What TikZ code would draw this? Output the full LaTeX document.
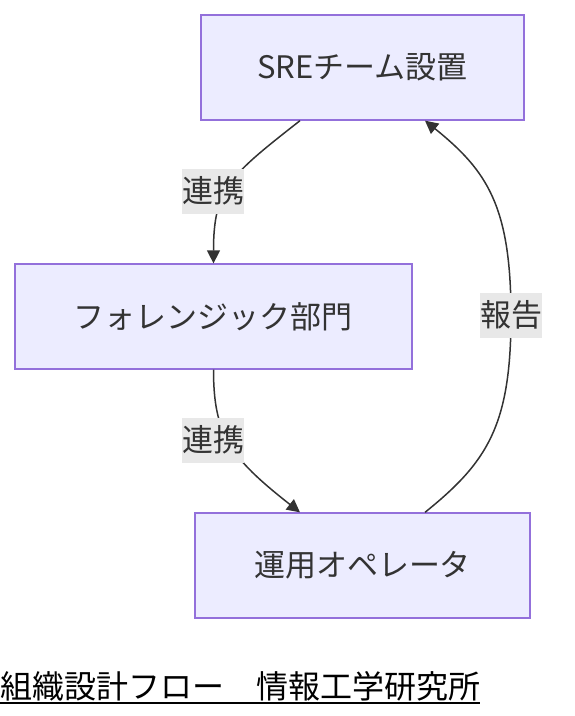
\documentclass[tikz,border=0pt]{standalone}
\usepackage{fontspec}
\newfontfamily\jp{Noto Sans CJK JP}
\usetikzlibrary{arrows.meta}
\definecolor{boxfill}{HTML}{ECECFF}
\definecolor{boxline}{HTML}{9370DB}
\definecolor{ink}{HTML}{333333}
\definecolor{edgebg}{HTML}{E8E8E8}
\tikzset{
  flowbox/.style={draw=boxline, line width=1.3pt, fill=boxfill, inner sep=0pt, text=ink,
    font=\jp\fontsize{31}{36}\selectfont},
  edgelabel/.style={fill=edgebg, inner xsep=0pt, inner ysep=0pt, minimum height=45pt, text=ink,
    font=\jp\fontsize{31}{36}\selectfont},
  link/.style={draw=ink, line width=1.5pt, -{Triangle[length=13pt,width=13pt]}},
}
\begin{document}
\begin{tikzpicture}[x=1pt,y=-1pt]
\useasboundingbox (0,0) rectangle (574,716);
\node[flowbox, minimum width=323pt, minimum height=105pt] (sre) at (362.5,67.5) {SREチーム設置};
\node[flowbox, minimum width=397pt, minimum height=105pt] (for) at (213.5,316.5) {フォレンジック部門};
\node[flowbox, minimum width=335pt, minimum height=105pt] (ops) at (362.5,565.5) {運用オペレータ};
% edge 1
\coordinate (s1) at ([xshift=-62.5pt]sre.south);
\draw[link] (s1) .. controls +(-70,55) and +(0,-75) .. (for.north);
\node[edgelabel] (l1) at (213,191) {連携};
% edge 2
\coordinate (e2) at ([xshift=-62.5pt]ops.north);
\draw[link] (for.south) .. controls +(0,65) and +(-70,-55) .. (e2);
\node[edgelabel] (l2) at (213,440) {連携};
% edge 3
\coordinate (s3) at ([xshift=62.5pt]ops.north);
\coordinate (e3) at ([xshift=62.5pt]sre.south);
\coordinate (m3) at (511,316);
\draw[link] (s3) .. controls +(62,-50) and +(0,110) .. (m3) .. controls +(0,-110) and +(62,50) .. (e3);
\node[edgelabel] (l3) at ([yshift=1pt]m3) {報告};
% title
\node[anchor=south west, inner sep=0pt, font=\jp\fontsize{32}{37}\selectfont, text=black] (title) at (0,701) {組織設計フロー　情報工学研究所};
\draw[black, line width=2pt] (title.south west) ++(0,1.5) -- ([yshift=-1.5pt]title.south east);
\end{tikzpicture}
\end{document}
